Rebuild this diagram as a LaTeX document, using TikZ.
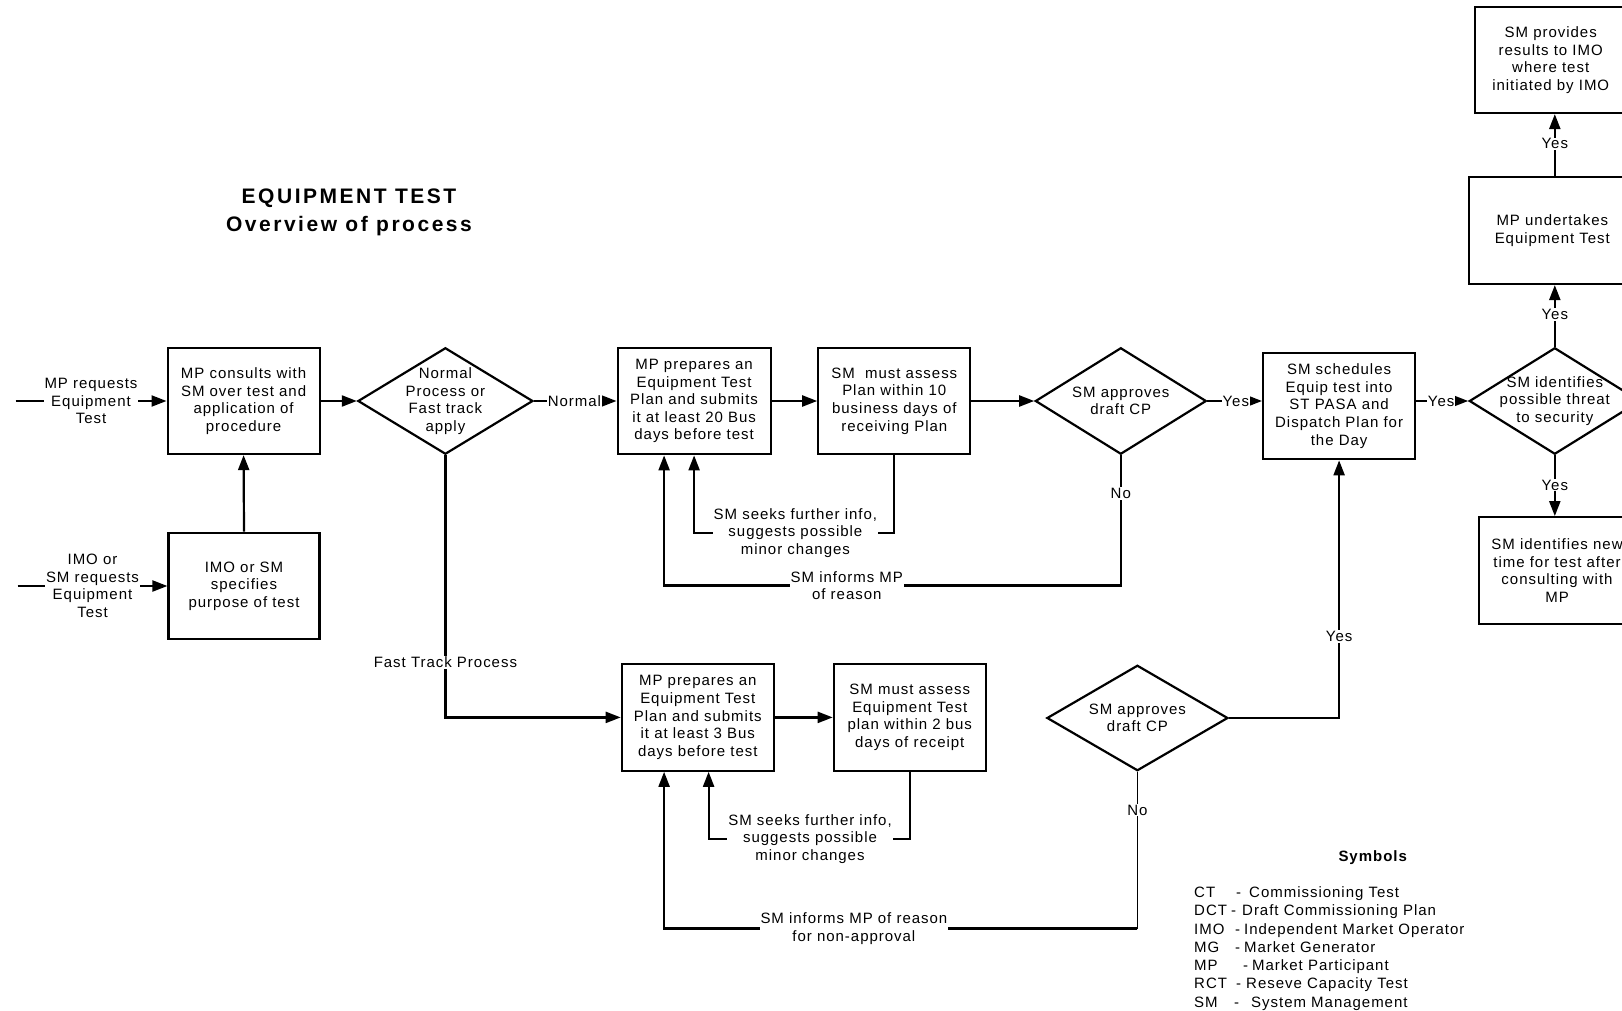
\documentclass[tikz,border=0pt]{standalone}
\usepackage{fontspec}
\setmainfont{Liberation Sans}[LetterSpace=6.5]
\newfontfamily\headfont{Liberation Sans}[LetterSpace=12]
\usetikzlibrary{arrows.meta,shapes.geometric}

\tikzset{
  txt/.style={font=\fontsize{15}{17.6}\selectfont, align=center},
  box/.style={txt, draw, line width=2.2pt, inner sep=0pt},
  dia/.style={draw, diamond, line width=2.2pt, inner sep=0pt},
  dtext/.style={txt, inner sep=0pt},
  conn/.style={line width=2.2pt},
  thinconn/.style={line width=1pt},
  arr/.style={conn, -{Triangle[length=15pt,width=11pt]}},
  lbl/.style={txt, fill=white, inner sep=1pt},
  legend/.style={font=\fontsize{15}{17.6}\selectfont, anchor=base west, inner sep=0pt},
}

\begin{document}
\begin{tikzpicture}[x=1pt,y=-1pt]
\useasboundingbox (0,0) rectangle (1622,1011);
\clip (0,0) rectangle (1622,1011);

% title
\node[font=\headfont\fontsize{21}{28}\selectfont\bfseries, align=center] (title) at (349,212.5)
  {EQUIPMENT TEST\\Overview of process};

% start points of the two requests
\coordinate (in1) at (15.5,401);
\coordinate (in2) at (17.6,586);

% process boxes
\node[box, minimum width=152pt, minimum height=106pt] (A) at (243.6,401)
  {MP consults with\\SM over test and\\application of\\procedure};
\node[box, minimum width=151pt, minimum height=106.5pt] (B) at (244,586)
  {IMO or SM\\specifies\\purpose of test};
\node[box, minimum width=153pt, minimum height=106.5pt] (C) at (694.1,401)
  {MP prepares an\\Equipment Test\\Plan and submits\\it at least 20 Bus\\days before test};
\node[box, minimum width=152pt, minimum height=106.5pt] (D) at (894.3,401)
  {SM\ \ must assess\\Plan within 10\\business days of\\receiving Plan};
\node[box, minimum width=152pt, minimum height=106.5pt] (E) at (1339.1,406)
  {SM schedules\\Equip test into\\ST PASA and\\Dispatch Plan for\\the Day};
\node[box, minimum width=166pt, minimum height=107pt] (F) at (1552.3,230.5)
  {MP undertakes\\Equipment Test};
\node[box, minimum width=151.4pt, minimum height=106pt] (G) at (1550.7,60)
  {SM provides\\results to IMO\\where test\\initiated by IMO};
\node[box, minimum width=155.4pt, minimum height=106.6pt] (H) at (1557,570.5)
  {SM identifies new\\time for test after\\consulting with\\MP};
\node[box, minimum width=152pt, minimum height=106.6pt] (I) at (697.8,717.4)
  {MP prepares an\\Equipment Test\\Plan and submits\\it at least 3 Bus\\days before test};
\node[box, minimum width=152pt, minimum height=106.6pt] (J) at (909.8,717.4)
  {SM must assess\\Equipment Test\\plan within 2 bus\\days of receipt};

% decisions
\node[dia, minimum width=175pt, minimum height=106.5pt] (D1) at (445.4,401) {};
\node[dtext] (D1t) at (D1) {Normal\\Process or\\Fast track\\apply};
\node[dia, minimum width=171pt, minimum height=106.5pt] (D2) at (1120.8,401) {};
\node[dtext] (D2t) at (D2) {SM approves\\draft CP};
\node[dia, minimum width=171pt, minimum height=106.5pt] (D3) at (1554.8,401) {};
\node[dtext] (D3t) at (D3) {SM identifies\\possible threat\\to security};
\node[dia, minimum width=181pt, minimum height=105.5pt] (D4) at (1137.4,718) {};
\node[dtext] (D4t) at (D4) {SM approves\\draft CP};

% bend points of the return loops
\coordinate (r1) at (694.1,532.8);
\coordinate (r2) at (664.1,585.5);
\coordinate (r3) at (708.6,839);
\coordinate (r4) at (664.1,928.5);

% main flow
\draw[arr] (in1) -- node[lbl, pos=0.5] {MP requests\\Equipment\\Test} (A.west);
\draw[arr] (in2) -- node[lbl, pos=0.5] {IMO or\\SM requests\\Equipment\\Test} (B.west);
\draw[arr] (B.north) -- (A.south);
\draw[arr] (A.east) -- (D1.west);
\draw[arr] (D1.east) -- node[lbl, pos=0.49, inner sep=0.5pt] {Normal} (C.west);
\draw[arr] (C.east) -- (D.west);
\draw[arr] (D.east) -- (D2.west);
\draw[arr] (D2.east) -- node[lbl, pos=0.52, inner sep=0.5pt] {Yes} (D2.east -| E.west);
\draw[arr] (E.east |- D3.west) -- node[lbl, pos=0.48, inner sep=0.5pt] {Yes} (D3.west);
\draw[arr] (D3.north) -- node[lbl, pos=0.52] {Yes} (D3.north |- F.south);
\draw[arr] (F.north -| D3.north) -- node[lbl, pos=0.52] {Yes} (D3.north |- G.south);
\draw[arr] (D3.south) -- node[lbl, pos=0.49] {Yes} (D3.south |- H.north);

% normal process return loops
\draw[arr] (D.south) |- node[lbl, pos=0.747] {SM seeks further info,\\suggests possible\\minor changes} (r1) -- (C.south);
\draw[arr] (D2.south) |- node[lbl, pos=0.146] {No}
  node[lbl, pos=0.80] {SM informs MP\\of reason} (r2) -- (r2 |- C.south);

% fast track
\draw[arr] (D1.south) |- node[lbl, pos=0.395] {Fast Track Process} (I.west);
\draw[arr] (I.east) -- (J.west);
\draw[arr] (J.south) |- node[lbl, pos=0.748] {SM seeks further info,\\suggests possible\\minor changes} (r3) -- (r3 |- I.south);
\draw[arr] (D4.east) -| node[lbl, pos=0.658] {Yes} (E.south);
\draw[thinconn] (D4.south) -- node[lbl, pos=0.243] {No} (D4.south |- r4);
\draw[arr] (D4.south |- r4) -- node[lbl, pos=0.599] {SM informs MP of reason\\for non-approval} (r4) -- (r4 |- I.south);

% legend
\node[font=\fontsize{15}{17.6}\selectfont\bfseries] (symb) at (1372.7,857.6) {Symbols};
\foreach \ab/\dx/\tx/\ds [count=\k] in {
  CT/1236/1249/Commissioning Test,
  DCT/1231/1242/Draft Commissioning Plan,
  IMO/1235/1244/Independent Market Operator,
  MG/1235/1244/Market Generator,
  MP/1243/1252/Market Participant,
  RCT/1236/1246/Reseve Capacity Test,
  SM/1234/1251/System Management}
{
  \pgfmathsetmacro\yy{897.7+18.23*(\k-1)}
  \node[legend] (lga\k) at (1194,\yy) {\ab};
  \node[legend] (lgd\k) at (\dx,\yy) {-};
  \node[legend] (lgt\k) at (\tx,\yy) {\ds};
}
\end{tikzpicture}
\end{document}
